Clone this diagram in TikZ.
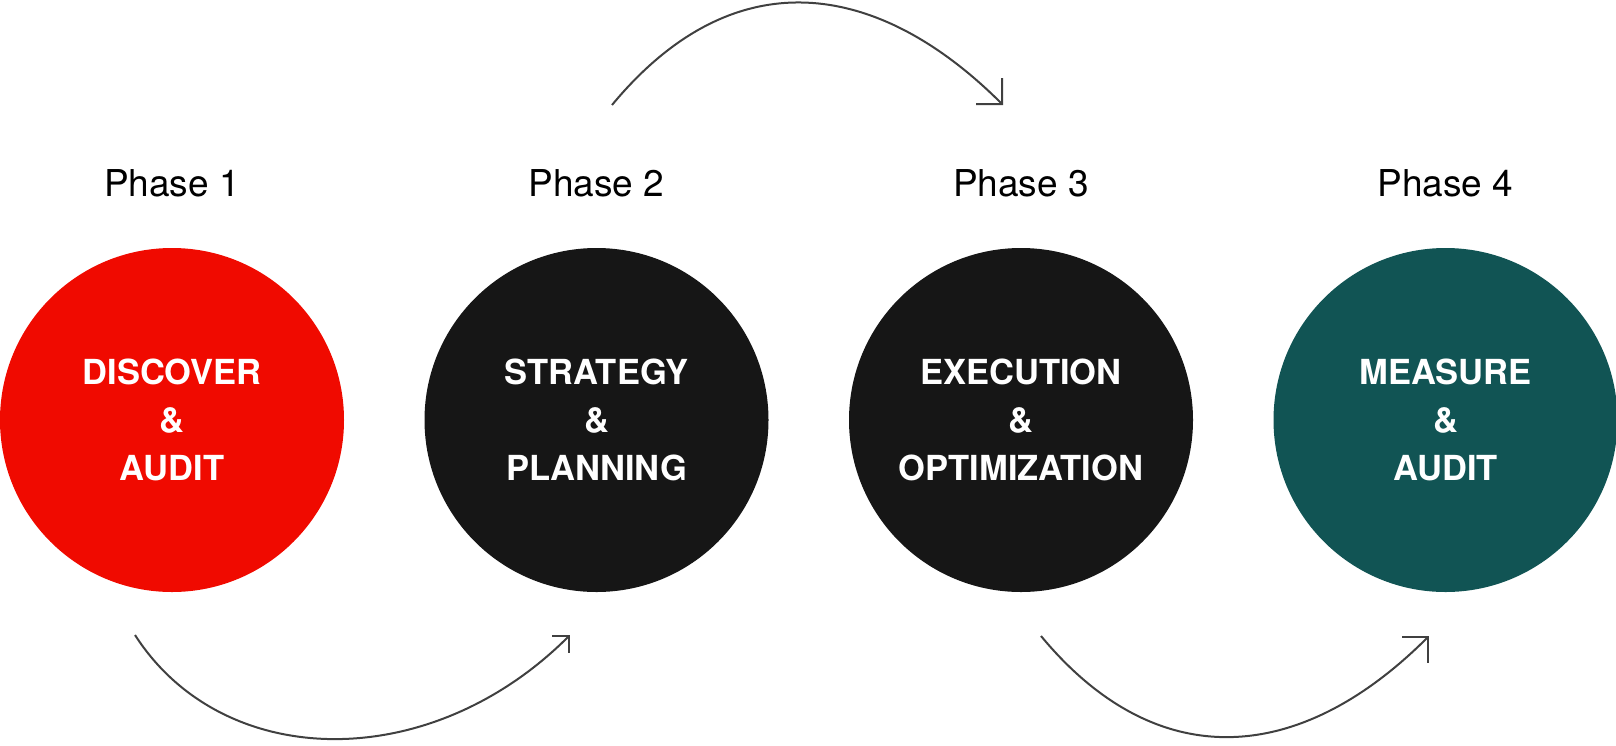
\documentclass[tikz,border=0pt]{standalone}
\usepackage{fontspec}
\setmainfont{TeX Gyre Heros}
\usetikzlibrary{arrows.meta}
\usetikzlibrary{positioning}
\definecolor{discred}{HTML}{F00A00}
\definecolor{phaseblack}{HTML}{161616}
\definecolor{measureteal}{HTML}{115454}
\definecolor{arrowgray}{HTML}{404040}

\begin{document}
\begin{tikzpicture}[x=0.5pt, y=-0.5pt,
    phase/.style={circle, minimum size=172pt, inner sep=0pt, text=white,
      align=center, font=\fontsize{17.25}{24}\selectfont\bfseries},
    phaselabel/.style={above=25pt of #1, inner sep=0pt,
      font=\fontsize{18.5}{22}\selectfont},
    flow/.style={draw=arrowgray, line width=1pt,
      -{Straight Barb[angle=90:13pt]}}]
    \useasboundingbox (0,0) rectangle (1616,745);
    \node [phase, fill=discred] (disc) at (172,420) {DISCOVER\\\&\\AUDIT};
    \node [phase, fill=phaseblack, right=39.85pt of disc] (strat) {STRATEGY\\\&\\PLANNING};
    \node [phase, fill=phaseblack, right=39.85pt of strat] (exec) {EXECUTION\\\&\\OPTIMIZATION};
    \node [phase, fill=measureteal, right=39.85pt of exec] (meas) {MEASURE\\\&\\AUDIT};
    \node [phaselabel=disc] (p1) {Phase 1};
    \node [phaselabel=strat] (p2) {Phase 2};
    \node [phaselabel=exec] (p3) {Phase 3};
    \node [phaselabel=meas] (p4) {Phase 4};
    % connectors
    \coordinate (ts) at (612,105);
    \coordinate (te) at (1003,105);
    \coordinate (ls) at (135,635);
    \coordinate (le) at (570,635);
    \coordinate (rs) at (1041,636);
    \coordinate (re) at (1429,636);
    \draw [flow] (ts) .. controls (738,-47) and (883,-15) .. (te);
    \draw [flow, -{Straight Barb[angle=90:8.5pt]}] (ls) .. controls (223,772) and (430,775) .. (le);
    \draw [flow] (rs) .. controls (1157,776) and (1300,765) .. (re);
\end{tikzpicture}
\end{document}
